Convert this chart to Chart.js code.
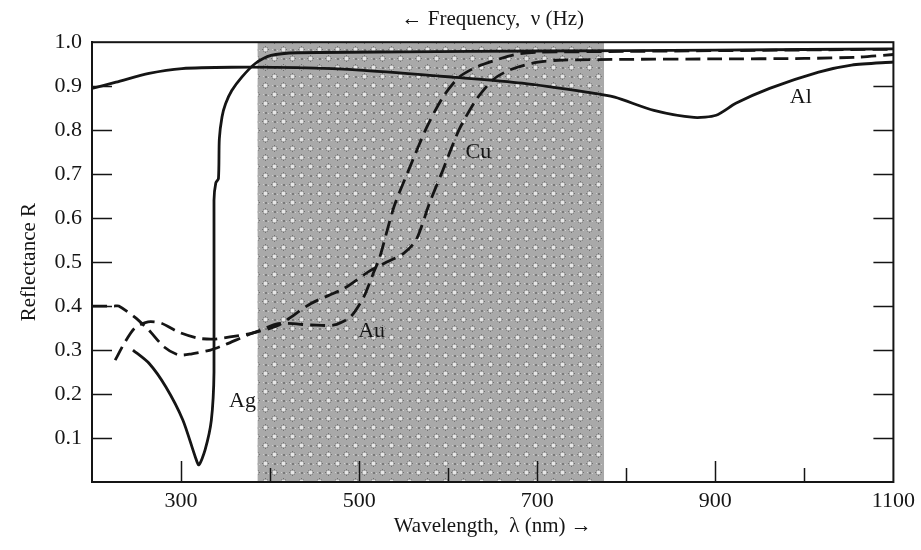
<!DOCTYPE html>
<html>
<head>
<meta charset="utf-8">
<style>
  html, body { margin: 0; padding: 0; background: #fff; }
  #wrap { width: 921px; height: 550px; }
</style>
<script src="https://cdn.jsdelivr.net/npm/chart.js@4.4.1/dist/chart.umd.min.js"></script>
</head>
<body>
<div id="wrap"><canvas id="reflChart" width="921" height="550"></canvas></div>
<script>
// wavelength (nm) / reflectance
const alWavelength = [200, 227, 264, 301, 357, 431, 505, 609, 683, 757, 787, 831, 876, 901, 923, 961, 1016, 1053, 1100];
const alReflectance = [0.895, 0.909, 0.929, 0.94, 0.943, 0.942, 0.936, 0.92, 0.907, 0.886, 0.875, 0.845, 0.829, 0.834, 0.861, 0.895, 0.932, 0.948, 0.955];

const agWavelength = [246, 264, 283, 302, 316, 320, 327, 334, 337, 337, 339, 342, 343, 346, 350, 357, 368, 383, 401, 431, 550, 700, 900, 1100];
const agReflectance = [0.30, 0.27, 0.216, 0.141, 0.057, 0.039, 0.073, 0.14, 0.25, 0.64, 0.68, 0.69, 0.78, 0.83, 0.86, 0.89, 0.92, 0.951, 0.97, 0.976, 0.978, 0.98, 0.982, 0.985];

const cuWavelength = [200, 225, 230, 248, 264, 281, 297, 311, 333, 348, 381, 408, 446, 483, 512, 531, 550, 564, 579, 594, 612, 631, 650, 668, 694, 723, 800, 900, 1000, 1060, 1100];
const cuReflectance = [0.40, 0.40, 0.40, 0.375, 0.345, 0.307, 0.289, 0.291, 0.30, 0.311, 0.339, 0.355, 0.406, 0.44, 0.48, 0.50, 0.52, 0.55, 0.634, 0.709, 0.80, 0.868, 0.914, 0.936, 0.952, 0.959, 0.961, 0.962, 0.963, 0.966, 0.972];

const auWavelength = [226, 237, 248, 263, 278, 297, 319, 337, 355, 381, 409, 446, 472, 490, 505, 516, 523, 539, 557, 576, 594, 612, 631, 653, 675, 700, 800, 1100];
const auReflectance = [0.277, 0.318, 0.35, 0.364, 0.361, 0.341, 0.327, 0.325, 0.33, 0.339, 0.36, 0.357, 0.357, 0.375, 0.42, 0.475, 0.51, 0.625, 0.716, 0.807, 0.875, 0.92, 0.943, 0.959, 0.972, 0.977, 0.979, 0.984];

// visible band (shaded), nm
const visibleBand = [386, 775];

const xTickLabels = [300, 500, 700, 900, 1100];
const xTickMarks = [300, 400, 500, 600, 700, 800, 900, 1000];
const yTickValues = [0.1, 0.2, 0.3, 0.4, 0.5, 0.6, 0.7, 0.8, 0.9, 1.0];

const curveNames = ["Al", "Cu", "Au", "Ag"];
const curveLabelX = [996, 634, 514, 369];
const curveLabelY = [0.875, 0.75, 0.343, 0.184];

const serif = "'Liberation Serif', 'Times New Roman', serif";
const ink = "#151515";

function toPoints(xs, ys) {
  return xs.map((x, i) => ({ x: x, y: ys[i] }));
}

// coarse halftone-ish dot screen for the visible band
let dotPattern = null;
function makeDotPattern(ctx) {
  const n = 18;
  const c = document.createElement("canvas");
  c.width = n;
  c.height = n;
  const p = c.getContext("2d");
  p.fillStyle = "#a9a9a9";
  p.fillRect(0, 0, n, n);
  const put = (x, y, w, h, col) => {
    p.fillStyle = col;
    p.fillRect(((x % n) + n) % n, ((y % n) + n) % n, w, h);
  };
  [[4, 4], [13, 13]].forEach(([cx, cy]) => {
    put(cx - 1, cy - 1, 3, 3, "#e6e6e6");
    put(cx - 3, cy, 1, 1, "#707070");
    put(cx + 3, cy, 1, 1, "#707070");
    put(cx, cy - 3, 1, 1, "#707070");
    put(cx, cy + 3, 1, 1, "#707070");
    put(cx - 2, cy - 2, 1, 1, "#8a8a8a");
    put(cx + 2, cy + 2, 1, 1, "#8a8a8a");
    put(cx + 2, cy - 2, 1, 1, "#8a8a8a");
    put(cx - 2, cy + 2, 1, 1, "#8a8a8a");
  });
  [[13, 4], [4, 13]].forEach(([cx, cy]) => {
    put(cx, cy, 2, 2, "#7a7a7a");
    put(cx - 2, cy, 1, 1, "#cfcfcf");
    put(cx + 3, cy + 1, 1, 1, "#cfcfcf");
  });
  return ctx.createPattern(c, "repeat");
}

const figureExtras = {
  id: "figureExtras",
  beforeDatasetsDraw(chart) {
    const { ctx, chartArea: a, scales: { x } } = chart;
    if (!dotPattern) dotPattern = makeDotPattern(ctx);
    const x0 = x.getPixelForValue(visibleBand[0]);
    const x1 = x.getPixelForValue(visibleBand[1]);
    ctx.save();
    ctx.fillStyle = dotPattern;
    ctx.fillRect(x0, a.top, x1 - x0, a.bottom - a.top);
    ctx.restore();
  },
  afterDatasetsDraw(chart) {
    const { ctx, chartArea: a, scales: { x, y } } = chart;
    ctx.save();
    ctx.strokeStyle = ink;
    ctx.lineWidth = 2;
    ctx.strokeRect(a.left, a.top, a.right - a.left, a.bottom - a.top);

    // inward tick marks
    ctx.lineWidth = 1.5;
    ctx.beginPath();
    xTickMarks.forEach((v) => {
      const px = Math.round(x.getPixelForValue(v)) + 0.5;
      const len = xTickLabels.includes(v) ? 21 : 14;
      ctx.moveTo(px, a.bottom);
      ctx.lineTo(px, a.bottom - len);
    });
    yTickValues.forEach((v) => {
      if (v >= 1) return;
      const py = Math.round(y.getPixelForValue(v)) + 0.5;
      ctx.moveTo(a.left, py);
      ctx.lineTo(a.left + 20, py);
      ctx.moveTo(a.right, py);
      ctx.lineTo(a.right - 20, py);
    });
    ctx.stroke();

    // curve names
    ctx.fillStyle = ink;
    ctx.font = "22px " + serif;
    ctx.textAlign = "center";
    ctx.textBaseline = "middle";
    curveNames.forEach((name, i) => {
      ctx.fillText(name, x.getPixelForValue(curveLabelX[i]), y.getPixelForValue(curveLabelY[i]));
    });
    ctx.restore();
  }
};

const lineStyle = (data, dashed) => ({
  data: data,
  showLine: true,
  borderColor: ink,
  borderWidth: 2.8,
  borderDash: dashed ? [15, 7] : [],
  pointRadius: 0,
  tension: 0.25,
  fill: false
});

new Chart(document.getElementById("reflChart").getContext("2d"), {
  type: "scatter",
  data: {
    datasets: [
      Object.assign({ label: "Al" }, lineStyle(toPoints(alWavelength, alReflectance), false)),
      Object.assign({ label: "Ag" }, lineStyle(toPoints(agWavelength, agReflectance), false)),
      Object.assign({ label: "Cu" }, lineStyle(toPoints(cuWavelength, cuReflectance), true)),
      Object.assign({ label: "Au" }, lineStyle(toPoints(auWavelength, auReflectance), true))
    ]
  },
  options: {
    responsive: false,
    devicePixelRatio: 1,
    animation: false,
    layout: { padding: { top: 0, right: 19, bottom: 0, left: 0 } },
    plugins: {
      legend: { display: false },
      tooltip: { enabled: false },
      title: {
        display: true,
        fullSize: false,
        text: "← Frequency,  ν (Hz)",
        color: ink,
        font: { family: serif, size: 21, weight: "normal" },
        padding: { top: 7, bottom: 10 }
      }
    },
    scales: {
      x: {
        type: "linear",
        min: 200,
        max: 1100,
        afterBuildTicks: (s) => { s.ticks = xTickLabels.map((v) => ({ value: v })); },
        afterFit: (s) => { s.height = 68; },
        ticks: {
          color: ink,
          font: { family: serif, size: 22 },
          padding: 6,
          maxRotation: 0,
          autoSkip: false,
          callback: (v) => String(v)
        },
        grid: { display: false, drawTicks: false },
        border: { display: true, color: ink, width: 2 },
        title: {
          display: true,
          text: "Wavelength,  λ (nm) →",
          color: ink,
          font: { family: serif, size: 21 },
          padding: { top: 0, bottom: 11 }
        }
      },
      y: {
        min: 0,
        max: 1,
        afterBuildTicks: (s) => { s.ticks = yTickValues.map((v) => ({ value: v })); },
        afterFit: (s) => { s.width = 92; },
        ticks: {
          color: ink,
          font: { family: serif, size: 22 },
          padding: 10,
          callback: (v) => v.toFixed(1)
        },
        grid: { display: false, drawTicks: false },
        border: { display: true, color: ink, width: 2 },
        title: {
          display: true,
          text: "Reflectance R",
          color: ink,
          font: { family: serif, size: 21 },
          padding: { top: 17, bottom: 0 }
        }
      }
    }
  },
  plugins: [figureExtras]
});
</script>
</body>
</html>
